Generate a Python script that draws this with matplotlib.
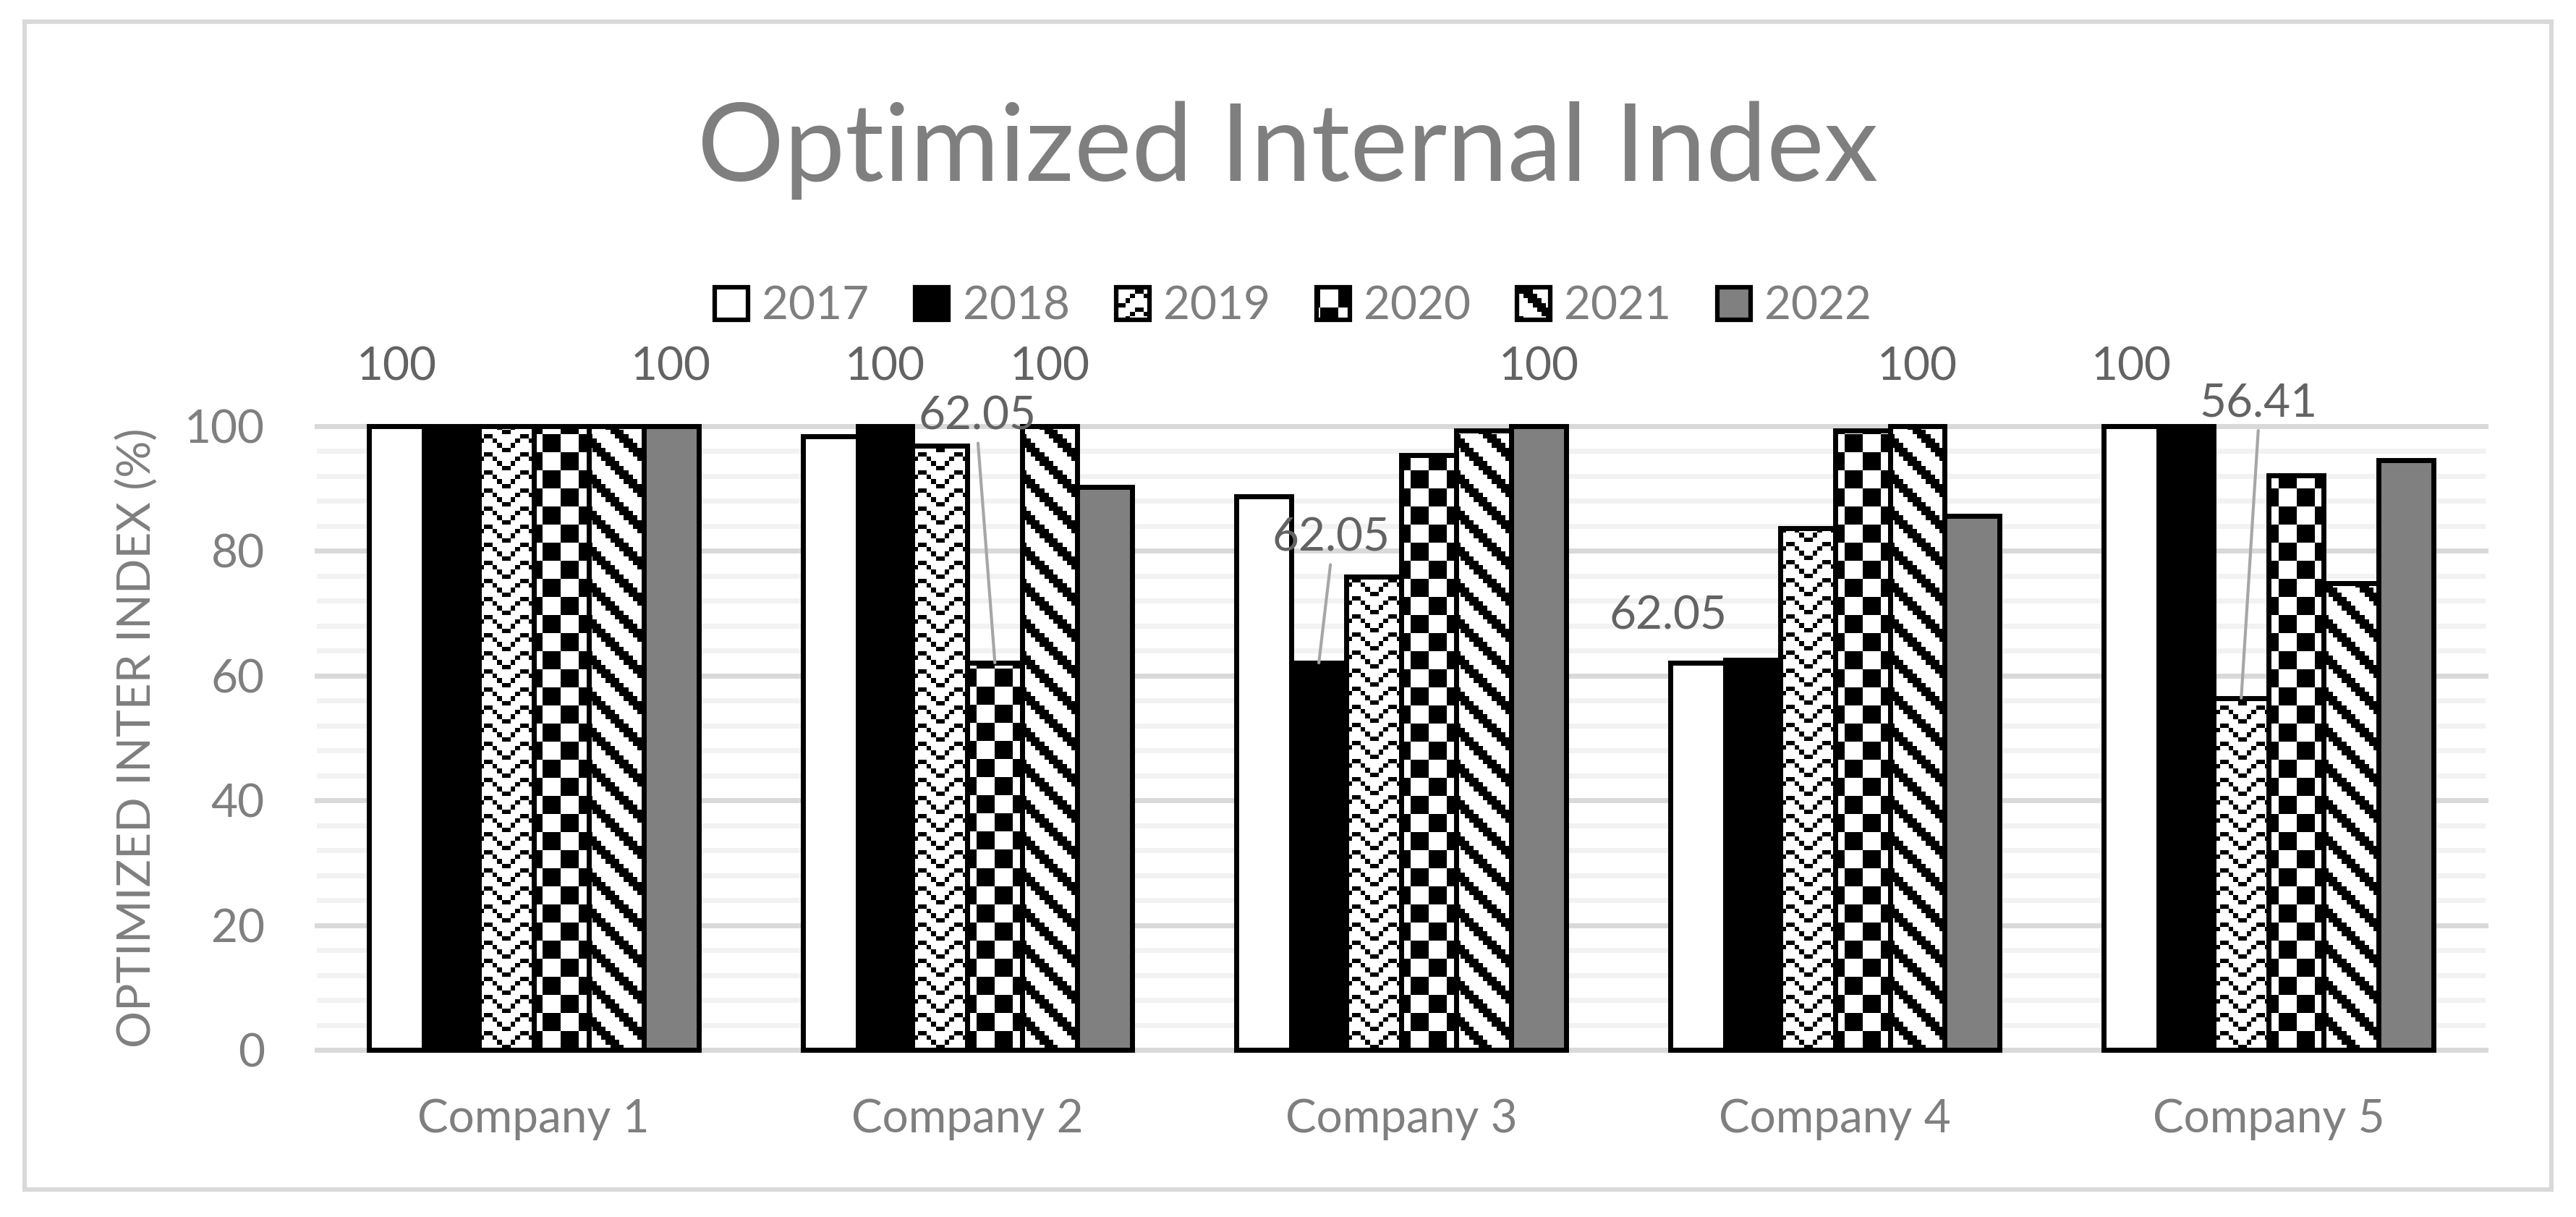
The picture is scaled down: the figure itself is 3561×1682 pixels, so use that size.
import numpy as np
import matplotlib
matplotlib.use("Agg")
import matplotlib.pyplot as plt
from matplotlib.patches import Patch, Rectangle
from matplotlib.ticker import MultipleLocator

W, H, DPI = 3561, 1682, 100

# ---- data -----------------------------------------------------------
companies = ["Company 1", "Company 2", "Company 3", "Company 4", "Company 5"]
years = ["2017", "2018", "2019", "2020", "2021", "2022"]
v2017 = [100, 98.4, 88.8, 62.05, 100]
v2018 = [100, 100, 62.05, 62.5, 100]
v2019 = [100, 96.9, 75.9, 83.7, 56.41]
v2020 = [100, 62.05, 95.4, 99.3, 92.1]
v2021 = [100, 100, 99.3, 100, 74.8]
v2022 = [100, 90.2, 100, 85.6, 94.5]
series = [v2017, v2018, v2019, v2020, v2021, v2022]

# bars that carry a data label: (company index, year)
labelled = [(0, "2017"), (0, "2022"), (1, "2018"), (1, "2020"), (1, "2021"),
            (2, "2018"), (2, "2022"), (3, "2017"), (3, "2021"), (4, "2017"),
            (4, "2019")]

# ---- style ----------------------------------------------------------
FONT = "Lato"
GREY_TXT = "#7f7f7f"
LABEL_TXT = "#636363"
faces = ["white", "black", "none", "none", "none", "#808080"]
fills = [None, None, "zigzag", "checker", "wdiag", None]
CELL = 6.25          # pixel size of one cell of the 8x8 Excel pattern
FS = 46

plt.rcParams.update({"font.family": FONT, "font.size": FS})


def pattern(name, px, py):
    """Excel-like 8x8 pattern, 0 = black, 1 = white, in absolute pixels."""
    cx = np.floor(px / CELL).astype(int)
    cy = np.floor(py / CELL).astype(int)
    if name == "zigzag":
        r = cy % 4
        k = cx % 8
        black = (k == 3 - r) | (k == 4 + r)
    elif name == "checker":
        black = ((cx // 4) + (cy // 4)) % 2 == 0
    else:  # wide downward diagonal
        black = (cx - cy) % 8 < 3
    return np.where(black, 0.0, 1.0)


def texture_for(bb, name):
    x0, x1 = int(np.floor(bb.x0)), int(np.ceil(bb.x1))
    y0, y1 = int(np.floor(bb.y0)), int(np.ceil(bb.y1))
    xs = np.arange(x0, x1) + 0.5
    ys = H - (np.arange(y1 - 1, y0 - 1, -1) + 0.5)   # rows top -> bottom
    PX, PY = np.meshgrid(xs, ys)
    return pattern(name, PX, PY), (x0, x1, y0, y1)


fig = plt.figure(figsize=(W / DPI, H / DPI), dpi=DPI)
ax = fig.add_axes([438 / W, (H - 1451) / H, 2998 / W, 862 / H])

n = len(years)
bw = 0.1266
x = np.arange(len(companies))
bars = []
for j, (yr, vals) in enumerate(zip(years, series)):
    b = ax.bar(x + (j - (n - 1) / 2) * bw, vals, width=bw, facecolor=faces[j],
               edgecolor="black", linewidth=5, zorder=3, label=yr, clip_on=False)
    bars.append(b)

ax.set_xlim(-0.5, len(companies) - 0.5)
ax.set_ylim(0, 100)
ax.set_autoscale_on(False)

ax.yaxis.set_major_locator(MultipleLocator(20))
ax.yaxis.set_minor_locator(MultipleLocator(4))
ax.grid(which="major", axis="y", color="#d9d9d9", linewidth=5)
ax.grid(which="minor", axis="y", color="#f2f2f2", linewidth=5)
ax.set_axisbelow(True)
for ln in ax.get_ygridlines():
    ln.set_clip_on(False)
for s in ax.spines.values():
    s.set_visible(False)
ax.set_xticks(x)
ax.set_xticklabels(companies)
ax.tick_params(axis="both", which="both", length=0, colors=GREY_TXT, labelsize=FS)
ax.tick_params(axis="x", pad=48)
ax.tick_params(axis="y", pad=52)
ax.set_ylabel("OPTIMIZED INTER INDEX (%)", color=GREY_TXT, fontsize=FS, labelpad=25)

# patterned fills, aligned to the screen like Excel does
fig.canvas.draw()
for j, name in enumerate(fills):
    if name is None:
        continue
    for rect in bars[j]:
        arr, (x0, x1, y0, y1) = texture_for(rect.get_window_extent(), name)
        inv = ax.transData.inverted()
        (dx0, dy0), (dx1, dy1) = inv.transform([(x0, y0), (x1, y1)])
        ax.imshow(arr, cmap="gray", vmin=0, vmax=1, extent=(dx0, dx1, dy0, dy1),
                  origin="upper", interpolation="nearest", aspect="auto",
                  zorder=2.5, clip_on=False)
ax.set_xlim(-0.5, len(companies) - 0.5)
ax.set_ylim(0, 100)

# data labels (offsets in pixels from the bar top)
offsets = {(1, "2020"): (-24, 341), (2, "2018"): (17, 173),
           (3, "2017"): (-41, 65), (4, "2019"): (24, 407)}
for ci, yr in labelled:
    j = years.index(yr)
    v = series[j][ci]
    xc = x[ci] + (j - (n - 1) / 2) * bw
    dx, dy = offsets.get((ci, yr), (0, 81))
    lead = (ci, yr) in offsets and (ci, yr) != (3, "2017")
    ax.annotate(f"{v:g}", xy=(xc, v), xytext=(dx, dy), textcoords="offset pixels",
                ha="center", va="center", color=LABEL_TXT, fontsize=FS,
                annotation_clip=False, zorder=6,
                arrowprops=dict(arrowstyle="-", color="#a6a6a6", lw=3,
                                shrinkA=4, shrinkB=0, relpos=(0.5, 0))
                if lead else None)

# title and legend
fig.text(0.5, 1 - 250 / H, "Optimized Internal Index", ha="center", va="baseline",
         fontsize=108, color=GREY_TXT)
handles = [Patch(facecolor=("none" if fills[j] else faces[j]), edgecolor="black",
                 linewidth=4.5, joinstyle="round") for j in range(n)]
leg = fig.legend(handles, years, loc="center", bbox_to_anchor=(0.502, 1 - 424 / H),
                 ncol=n, frameon=False, fontsize=FS, handlelength=0.72,
                 handleheight=0.72, handletextpad=0.3, columnspacing=1.0,
                 labelcolor=GREY_TXT)
fig.canvas.draw()
for j, p in enumerate(leg.get_patches()):
    if fills[j] is None:
        continue
    arr, (x0, x1, y0, y1) = texture_for(p.get_window_extent(), fills[j])
    rgb = np.repeat(arr[:, :, None], 3, axis=2)
    fig.figimage(rgb, xo=x0, yo=y0, origin="upper", zorder=4)

# light grey chart border
fig.add_artist(Rectangle((34 / W, (H - 1644) / H), (3527 - 34) / W, (1644 - 30) / H,
                         transform=fig.transFigure, fill=False,
                         edgecolor="#d9d9d9", linewidth=4.5))

fig.savefig("out.png", dpi=DPI)
